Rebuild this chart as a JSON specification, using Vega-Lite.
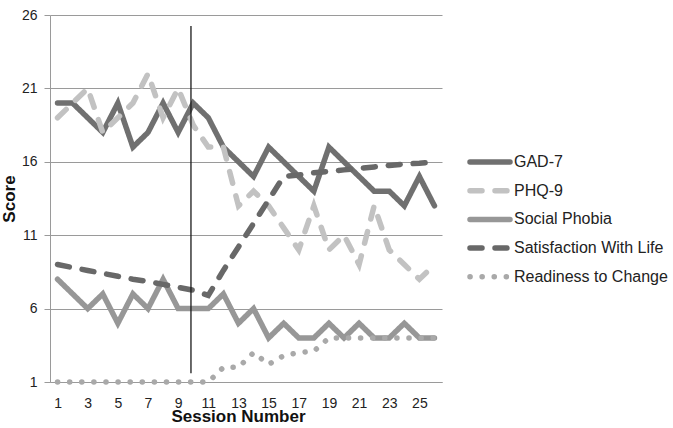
{
  "$schema": "https://vega.github.io/schema/vega-lite/v6.json",
  "width": 392,
  "height": 367,
  "autosize": {"type": "none"},
  "padding": {"left": 50, "top": 15, "right": 231, "bottom": 46},
  "config": {"view": {"stroke": null}, "font": "Liberation Sans", "axis": {"labelOverlap": false}},
  "layer": [
    {
      "data": {
        "values": [
          {"session": 1, "GAD-7": 20, "PHQ-9": 19, "Social Phobia": 8, "Satisfaction With Life": 9.0, "Readiness to Change": 1},
          {"session": 2, "GAD-7": 20, "PHQ-9": 20, "Social Phobia": 7, "Satisfaction With Life": 8.8, "Readiness to Change": 1},
          {"session": 3, "GAD-7": 19, "PHQ-9": 21, "Social Phobia": 6, "Satisfaction With Life": 8.6, "Readiness to Change": 1},
          {"session": 4, "GAD-7": 18, "PHQ-9": 18, "Social Phobia": 7, "Satisfaction With Life": 8.4, "Readiness to Change": 1},
          {"session": 5, "GAD-7": 20, "PHQ-9": 19, "Social Phobia": 5, "Satisfaction With Life": 8.2, "Readiness to Change": 1},
          {"session": 6, "GAD-7": 17, "PHQ-9": 20, "Social Phobia": 7, "Satisfaction With Life": 8.0, "Readiness to Change": 1},
          {"session": 7, "GAD-7": 18, "PHQ-9": 22, "Social Phobia": 6, "Satisfaction With Life": 7.85, "Readiness to Change": 1},
          {"session": 8, "GAD-7": 20, "PHQ-9": 19, "Social Phobia": 8, "Satisfaction With Life": 7.65, "Readiness to Change": 1},
          {"session": 9, "GAD-7": 18, "PHQ-9": 21, "Social Phobia": 6, "Satisfaction With Life": 7.45, "Readiness to Change": 1},
          {"session": 10, "GAD-7": 20, "PHQ-9": 18.5, "Social Phobia": 6, "Satisfaction With Life": 7.25, "Readiness to Change": 1},
          {"session": 11, "GAD-7": 19, "PHQ-9": 17, "Social Phobia": 6, "Satisfaction With Life": 6.9, "Readiness to Change": 1},
          {"session": 12, "GAD-7": 17, "PHQ-9": 17, "Social Phobia": 7, "Satisfaction With Life": 8.6, "Readiness to Change": 2},
          {"session": 13, "GAD-7": 16, "PHQ-9": 13, "Social Phobia": 5, "Satisfaction With Life": 10.2, "Readiness to Change": 2},
          {"session": 14, "GAD-7": 15, "PHQ-9": 14, "Social Phobia": 6, "Satisfaction With Life": 11.8, "Readiness to Change": 3},
          {"session": 15, "GAD-7": 17, "PHQ-9": 13, "Social Phobia": 4, "Satisfaction With Life": 13.4, "Readiness to Change": 2.2},
          {"session": 16, "GAD-7": 16, "PHQ-9": 11.5, "Social Phobia": 5, "Satisfaction With Life": 15.0, "Readiness to Change": 2.8},
          {"session": 17, "GAD-7": 15, "PHQ-9": 10, "Social Phobia": 4, "Satisfaction With Life": 15.1, "Readiness to Change": 3},
          {"session": 18, "GAD-7": 14, "PHQ-9": 13, "Social Phobia": 4, "Satisfaction With Life": 15.25, "Readiness to Change": 3.1},
          {"session": 19, "GAD-7": 17, "PHQ-9": 10, "Social Phobia": 5, "Satisfaction With Life": 15.35, "Readiness to Change": 4},
          {"session": 20, "GAD-7": 16, "PHQ-9": 11, "Social Phobia": 4, "Satisfaction With Life": 15.45, "Readiness to Change": 4},
          {"session": 21, "GAD-7": 15, "PHQ-9": 9, "Social Phobia": 5, "Satisfaction With Life": 15.55, "Readiness to Change": 4},
          {"session": 22, "GAD-7": 14, "PHQ-9": 13, "Social Phobia": 4, "Satisfaction With Life": 15.65, "Readiness to Change": 4},
          {"session": 23, "GAD-7": 14, "PHQ-9": 10, "Social Phobia": 4, "Satisfaction With Life": 15.75, "Readiness to Change": 4},
          {"session": 24, "GAD-7": 13, "PHQ-9": 9, "Social Phobia": 5, "Satisfaction With Life": 15.85, "Readiness to Change": 4},
          {"session": 25, "GAD-7": 15, "PHQ-9": 8, "Social Phobia": 4, "Satisfaction With Life": 15.9, "Readiness to Change": 4},
          {"session": 26, "GAD-7": 13, "PHQ-9": 9, "Social Phobia": 4, "Satisfaction With Life": 16.0, "Readiness to Change": 4}
        ]
      },
      "transform": [
        {"fold": ["GAD-7", "PHQ-9", "Social Phobia", "Satisfaction With Life", "Readiness to Change"], "as": ["series", "score"]}
      ],
      "mark": {"type": "line", "strokeWidth": 5.5, "strokeCap": "round"},
      "encoding": {
        "x": {
          "field": "session", "type": "quantitative",
          "scale": {"domain": [0.5, 26.5], "nice": false, "zero": false},
          "axis": {
            "title": "Session Number", "values": [1, 3, 5, 7, 9, 11, 13, 15, 17, 19, 21, 23, 25], "tickCount": 30,
            "grid": false, "ticks": false, "domainColor": "#9a9a9a", "domainWidth": 1,
            "labelFontSize": 14, "labelColor": "#222222", "labelPadding": 14, "labelOverlap": false,
            "titleFontSize": 17, "titleFontWeight": "bold", "titleColor": "#111111",
            "titleX": 188, "titleY": 39.5, "titleBaseline": "alphabetic"
          }
        },
        "y": {
          "field": "score", "type": "quantitative",
          "scale": {"domain": [1, 26], "nice": false, "zero": false},
          "axis": {
            "title": "Score", "values": [1, 6, 11, 16, 21, 26], "tickCount": 10,
            "grid": true, "gridColor": "#9a9a9a", "gridWidth": 1,
            "domainColor": "#9a9a9a", "tickColor": "#9a9a9a", "tickSize": 6,
            "labelFontSize": 14, "labelColor": "#222222", "labelPadding": 7, "labelOverlap": false,
            "titleFontSize": 17, "titleFontWeight": "bold", "titleColor": "#111111",
            "titleX": -41, "titleY": 183.5, "titleBaseline": "middle"
          }
        },
        "color": {
          "field": "series", "type": "nominal",
          "scale": {
            "domain": ["GAD-7", "PHQ-9", "Social Phobia", "Satisfaction With Life", "Readiness to Change"],
            "range": ["#707070", "#c2c2c2", "#979797", "#686868", "#a9a9a9"]
          },
          "legend": {
            "title": null, "orient": "none", "legendX": 417, "legendY": 139,
            "symbolType": "stroke", "symbolSize": 1600, "symbolStrokeWidth": 5.5,
            "labelFontSize": 16, "labelColor": "#222222", "labelOffset": 1,
            "clipHeight": 16, "rowPadding": 12.7, "padding": 0,
            "encode": {"symbols": {"update": {"strokeCap": {"value": "round"}}}}
          }
        },
        "strokeDash": {
          "field": "series", "type": "nominal",
          "scale": {
            "domain": ["GAD-7", "PHQ-9", "Social Phobia", "Satisfaction With Life", "Readiness to Change"],
            "range": [[1, 0], [12, 13], [1, 0], [12, 13], [0.1, 12]]
          },
          "legend": {
            "title": null, "orient": "none", "legendX": 417, "legendY": 139,
            "symbolType": "stroke", "symbolSize": 1600, "symbolStrokeWidth": 5.5,
            "labelFontSize": 16, "labelColor": "#222222", "labelOffset": 1,
            "clipHeight": 16, "rowPadding": 12.7, "padding": 0,
            "encode": {"symbols": {"update": {"strokeCap": {"value": "round"}}}}
          }
        }
      }
    },
    {
      "data": {"values": [{"session": 9.85, "lo": 1.6, "hi": 25.25}]},
      "mark": {"type": "rule", "color": "#1a1a1a", "strokeWidth": 1.3},
      "encoding": {
        "x": {"field": "session", "type": "quantitative", "axis": {"title": "Session Number"}},
        "y": {"field": "lo", "type": "quantitative", "axis": {"title": "Score"}},
        "y2": {"field": "hi"}
      }
    }
  ]
}
